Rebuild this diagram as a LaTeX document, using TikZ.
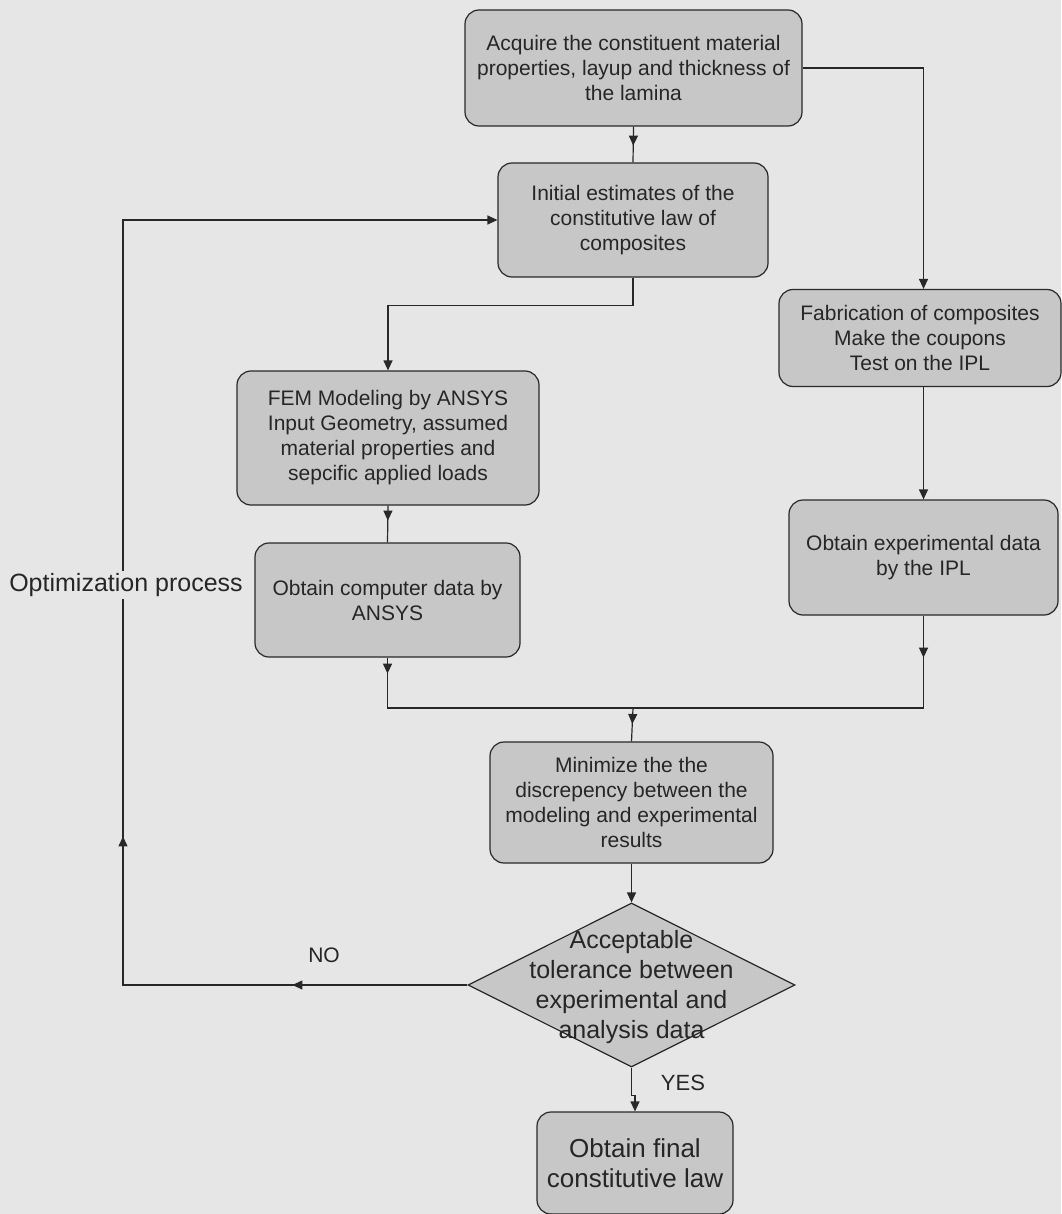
\documentclass[tikz,border=0pt]{standalone}
\usepackage{fontspec}
\setmainfont{Liberation Sans}
\usetikzlibrary{arrows.meta,shapes.geometric,decorations.markings}
\definecolor{bg}{RGB}{230,230,230}
\definecolor{boxfill}{RGB}{199,199,199}
\definecolor{ln}{RGB}{40,40,40}
\begin{document}
\begin{tikzpicture}[x=1pt,y=-1pt,
  box/.style={draw=ln, line width=1.2pt, fill=boxfill, rounded corners=14pt, align=center, inner sep=0pt, text=black!85, font=\fontsize{21}{25}\selectfont},
  conn/.style={color=ln, line width=1.2pt},
  tip/.style={-{Triangle[length=10pt,width=9pt]}},
  midtip/.style={postaction={decorate}, decoration={markings, mark=at position #1 with {\arrow{Triangle[length=10pt,width=9pt]}}}},
]
\fill[bg] (0,0) rectangle (1061,1214);
\useasboundingbox (0,0) rectangle (1061,1214);

\node[box, minimum width=337pt, minimum height=116pt] (acq) at (633.5,68) {Acquire the constituent material\\properties, layup and thickness of\\the lamina};
\node[box, minimum width=270pt, minimum height=114pt] (init) at (633,220) {Initial estimates of the\\constitutive law of\\composites};
\node[box, minimum width=282pt, minimum height=97pt] (fab) at (920,338) {Fabrication of composites\\Make the coupons\\Test on the IPL};
\node[box, minimum width=302pt, minimum height=134pt] (fem) at (388,438) {FEM Modeling by ANSYS\\Input Geometry, assumed\\material properties and\\sepcific applied loads};
\node[box, minimum width=265pt, minimum height=114pt] (comp) at (387.5,600) {Obtain computer data by\\ANSYS};
\node[box, minimum width=269pt, minimum height=115pt] (exp) at (923.5,557.5) {Obtain experimental data\\by the IPL};
\node[box, minimum width=283pt, minimum height=121pt] (mini) at (631.5,802.5) {Minimize the the\\discrepency between the\\modeling and experimental\\results};
\node[diamond, draw=ln, line width=1.2pt, fill=boxfill, minimum width=327pt, minimum height=164pt, inner sep=0pt] (dia) at (631.5,985) {};
\node[font=\fontsize{25}{30}\selectfont, text=black!85, align=center, inner sep=0pt] (diat) at (631.5,987) {Acceptable\\tolerance between\\experimental and\\analysis data};
\node[box, font=\fontsize{26}{30}\selectfont, minimum width=196pt, minimum height=102pt] (fin) at (635,1163) {Obtain final\\constitutive law};

\coordinate (join) at (633,708);
\coordinate (loopb) at (123,985);
\coordinate (loopt) at (123,220);

\draw[conn, midtip=19pt] (acq.south) -- (init.north);
\draw[conn, tip] (acq.east) -| (fab.north -| exp.north);
\draw[conn, tip] (init.south) -- ++(0,28) -| (fem.north);
\draw[conn, midtip=15pt] (fem.south) -- (comp.north);
\draw[conn, tip] (fab.south -| exp.north) -- (exp.north);
\draw[conn, midtip=16pt] (comp.south) |- (join);
\draw[conn, midtip=42pt] (exp.south) |- (join);
\draw[conn, midtip=16pt] (join) -- (mini.north);
\draw[conn, tip] (mini.south) -- (dia.north);
\draw[conn, tip, postaction={decorate}, decoration={markings,
    mark=at position 175pt with {\arrow{Triangle[length=10pt,width=9pt]}},
    mark=at position 493pt with {\arrow{Triangle[length=10pt,width=9pt]}}}]
  (dia.west) -- (loopb) -- (loopt) -- (init.west);
\draw[conn, tip] (dia.south) -- ++(0,28) -| (fin.north);

\node[font=\fontsize{25}{30}\selectfont, text=black!85, fill=bg, inner sep=2pt] (opt) at (126,585) {Optimization process};
\node[font=\fontsize{21}{25}\selectfont, text=black!85] (no) at (324,955) {NO};
\node[font=\fontsize{22}{25}\selectfont, text=black!85] (yes) at (683,1083) {YES};
\end{tikzpicture}
\end{document}
